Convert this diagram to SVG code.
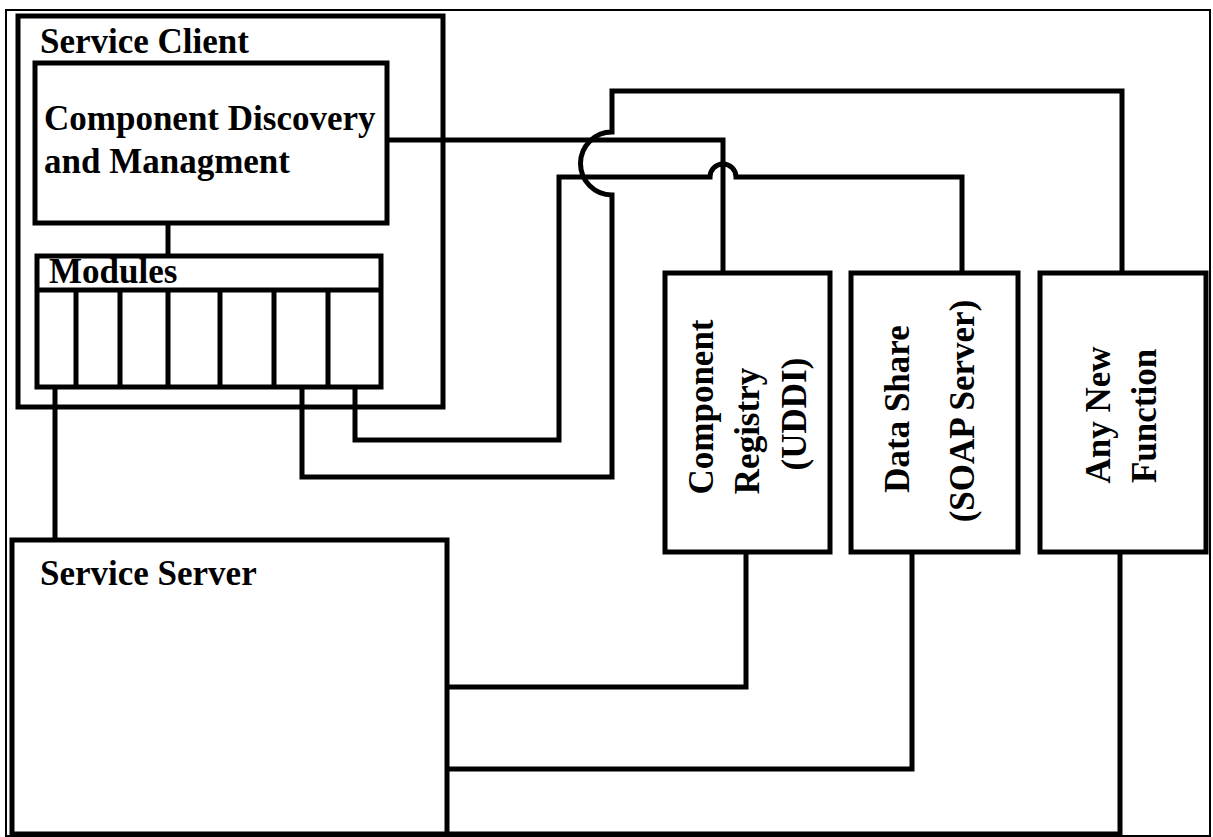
<svg xmlns="http://www.w3.org/2000/svg" width="1213" height="837" viewBox="0 0 1213 837">
<style>
.box{fill:#fff;stroke:#000;stroke-width:5}
.ln{fill:none;stroke:#000;stroke-width:5}
.wire{fill:none;stroke:#000;stroke-width:5;stroke-linejoin:miter}
.t{font-family:"Liberation Serif","Times New Roman",serif;font-weight:bold;font-size:35px;fill:#000}
.c{text-anchor:middle}
</style>
<rect x="0" y="0" width="1213" height="837" fill="#fff"/>
<rect x="6" y="10" width="1204" height="826" fill="none" stroke="#000" stroke-width="2"/>
<g id="service-client">
<rect class="box" x="18" y="16" width="425" height="391"/>
<text class="t" x="40" y="53">Service Client</text>
</g>
<g id="component-discovery">
<rect class="box" x="35" y="63" width="352" height="160"/>
<text class="t" x="44" y="130">Component Discovery</text>
<text class="t" x="44" y="173">and Managment</text>
</g>
<g id="modules">
<rect class="box" x="37" y="256" width="344" height="131"/>
<path class="ln" d="M37 290H381M76 290V387M120 290V387M168 290V387M220 290V387M274 290V387M328 290V387"/>
<text class="t" x="49" y="283">Modules</text>
</g>
<g id="service-server">
<rect class="box" x="12" y="540" width="435" height="294"/>
<text class="t" x="40" y="585">Service Server</text>
</g>
<g id="component-registry">
<rect class="box" x="665" y="273" width="165" height="279"/>
<text class="t c" transform="translate(713 407) rotate(-90)">Component</text>
<text class="t c" transform="translate(759 431) rotate(-90)">Registry</text>
<text class="t c" transform="translate(806 414) rotate(-90)">(UDDI)</text>
</g>
<g id="data-share">
<rect class="box" x="851" y="273" width="167" height="279"/>
<text class="t c" transform="translate(909 409) rotate(-90)">Data Share</text>
<text class="t c" transform="translate(974 411) rotate(-90)">(SOAP Server)</text>
</g>
<g id="any-new-function">
<rect class="box" x="1040" y="273" width="166" height="279"/>
<text class="t c" transform="translate(1110 415) rotate(-90)">Any New</text>
<text class="t c" transform="translate(1156 416) rotate(-90)">Function</text>
</g>
<g id="connectors">
<path class="wire" d="M168 223V256"/>
<path class="wire" d="M387 140H723V273"/>
<path class="wire" d="M302 387V477H612V195A31.5 31.5 0 0 1 612 132V91H1122V273"/>
<path class="wire" d="M355 387V440H559V177H710A13 13 0 0 1 736 177H962V273"/>
<path class="wire" d="M55 387V540"/>
<path class="wire" d="M746 552V687H447"/>
<path class="wire" d="M912 552V769H447"/>
<path class="wire" d="M1120 552V834H447"/>
</g>
</svg>
